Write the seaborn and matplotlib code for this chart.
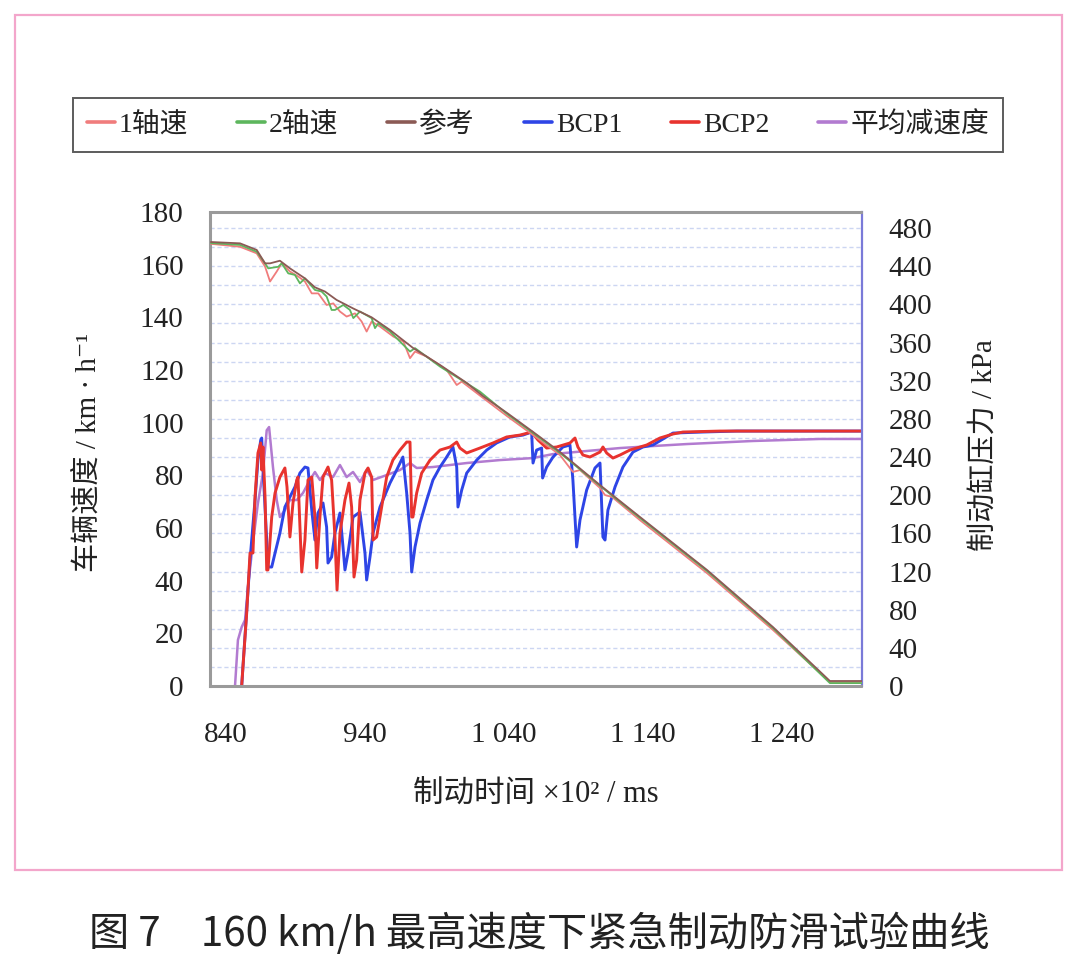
import matplotlib
matplotlib.use("Agg")
import matplotlib.pyplot as plt
import seaborn as sns
import pandas as pd
from matplotlib.ticker import MultipleLocator, FuncFormatter
from matplotlib.patches import Rectangle

# ---------------- data ----------------
# reference vehicle speed (km/h)
REF_T = [829.2, 850.1, 862.1, 868.1, 871.7, 878.8, 886.0, 896.8, 904.0, 911.2, 919.6, 931.4, 944.8,
         958.0, 974.5, 994.0, 1013.2, 1024.9, 1042.2, 1060.9, 1080.3, 1109.1, 1137.8, 1186.0,
         1233.5, 1274.5, 1297.6]
REF_V = [168.6, 168.1, 165.6, 160.5, 160.5, 161.5, 158.6, 154.8, 151.4, 149.8, 146.6, 143.4, 140.0,
         135.2, 128.4, 121.9, 115.1, 110.1, 103.7, 96.5, 88.9, 76.3, 64.2, 44.1,
         22.4, 1.9, 1.9]
# axle 1 speed
AX1_T = [829.2, 850.1, 862.1, 868.1, 871.7, 876.5, 880.1, 886.0, 892.0, 896.8, 901.7, 906.4, 912.4,
         917.2, 922.0, 926.8, 932.8, 937.6, 941.2, 944.8, 950.8, 960.4, 967.6, 972.4, 976.0, 984.4,
         998.8, 1006.0, 1009.6, 1022.7, 1042.2, 1060.9, 1080.3, 1089.6, 1094.7, 1109.1, 1112.7,
         1117.7, 1137.8, 1186.0, 1233.5, 1274.5, 1297.6]
AX1_V = [167.9, 166.8, 164.3, 159.3, 153.6, 157.4, 160.5, 157.4, 155.5, 153.6, 149.1, 149.1, 144.7,
         145.3, 142.2, 140.3, 141.5, 138.4, 134.6, 138.4, 136.5, 132.7, 130.8, 124.5, 127.0, 125.1,
         120.0, 114.3, 115.6, 110.3, 102.5, 95.3, 87.7, 81.3, 82.0, 75.2, 72.5,
         71.8, 63.0, 42.9, 21.3, 1.5, 1.5]
# axle 2 speed
AX2_T = [829.2, 850.1, 862.1, 868.1, 870.4, 877.6, 880.1, 884.8, 889.6, 893.2, 896.8, 904.0, 908.8,
         912.4, 916.0, 918.4, 924.4, 929.2, 931.6, 936.4, 944.8, 947.2, 949.6, 958.0, 972.4, 976.0,
         994.0, 1022.7, 1042.2, 1060.9, 1080.3, 1109.1, 1137.8, 1186.0, 1233.5, 1274.5, 1297.6]
AX2_V = [168.2, 167.5, 164.9, 160.5, 158.6, 159.2, 160.5, 156.7, 156.1, 152.9, 154.8, 150.4, 149.8,
         147.9, 142.8, 142.8, 144.7, 142.8, 139.7, 142.2, 139.7, 135.9, 137.7, 134.6, 127.0, 128.3,
         121.3, 111.8, 103.3, 96.1, 88.5, 76.0, 63.8, 43.7, 22.0, 1.1, 1.1]
# brake cylinder pressure 1 (kPa)
BCP1_T = [851.3, 857.3, 860.9, 863.0, 865.0, 865.7, 866.6, 869.3, 870.2, 872.9,
          875.3, 878.8, 882.4, 886.0, 889.6, 893.2, 896.8, 899.0, 901.7, 904.0,
          906.2, 909.8, 912.4, 913.4, 916.0, 918.4, 922.0, 924.2, 925.6, 927.8,
          931.4, 936.4, 940.0, 941.2, 943.6, 945.8, 950.8, 958.0, 962.8, 967.3,
          970.0, 972.4, 973.6, 976.0, 979.6, 984.4, 988.9, 994.0, 998.8, 1003.3,
          1006.0, 1006.9, 1009.6, 1013.2, 1020.4, 1027.6, 1034.7, 1044.3, 1053.7, 1059.9,
          1060.9, 1063.5, 1067.1, 1067.8, 1070.7, 1075.3, 1082.4, 1087.5, 1089.6, 1092.3,
          1094.7, 1099.5, 1105.5, 1109.1, 1111.2, 1112.7, 1114.8, 1119.9, 1125.6, 1132.8,
          1140.0, 1147.2, 1161.6, 1183.2, 1207.6, 1298.3]
BCP1_P = [0, 132.0, 194.9, 236.8, 257.8, 259.9, 229.5, 153.0, 124.7, 124.7,
          139.4, 160.3, 187.6, 198.1, 208.6, 223.2, 229.5, 228.5, 184.4, 153.0,
          181.3, 191.8, 166.6, 128.9, 135.2, 160.3, 181.3, 145.7, 121.6, 139.4,
          177.1, 182.4, 139.4, 111.1, 135.2, 160.3, 187.6, 212.7, 226.4, 240.0,
          202.3, 160.3, 119.5, 145.7, 170.8, 194.9, 215.9, 229.5, 240.0, 250.5,
          229.5, 187.6, 205.4, 223.2, 236.8, 247.3, 254.7, 261.0, 263.0, 266.2,
          233.7, 247.3, 249.4, 218.0, 229.5, 240.0, 250.5, 252.6, 215.9, 145.7,
          174.0, 205.4, 228.5, 233.7, 156.2, 153.0, 184.4, 208.6, 229.5, 245.2,
          250.5, 252.6, 265.1, 266.2, 267.2, 267.2]
# brake cylinder pressure 2 (kPa)
BCP2_T = [851.3, 852.2, 854.9, 857.3, 859.4, 860.9, 863.0, 865.0, 865.7, 866.6,
          868.1, 869.3, 870.2, 872.9, 875.3, 878.8, 882.4, 883.9, 886.0, 888.2,
          890.9, 891.8, 894.5, 896.8, 899.0, 901.7, 904.0, 905.3, 907.6, 909.8,
          913.4, 916.0, 918.4, 919.9, 922.0, 925.6, 928.5, 930.4, 932.1, 934.0,
          936.4, 940.0, 942.2, 944.8, 945.8, 948.4, 950.8, 955.6, 960.1, 965.2,
          970.0, 972.4, 973.6, 974.5, 977.2, 980.8, 986.8, 994.0, 1001.2, 1006.0,
          1008.3, 1013.2, 1022.7, 1032.1, 1041.9, 1051.5, 1059.9, 1064.5, 1070.7, 1077.9,
          1087.5, 1091.1, 1093.2, 1096.8, 1101.9, 1109.1, 1111.2, 1113.9, 1118.4, 1123.5,
          1130.6, 1142.7, 1152.2, 1161.6, 1168.8, 1195.4, 1243.6, 1298.3]
BCP2_P = [0, 19.9, 76.5, 139.4, 139.4, 198.1, 244.2, 254.7, 226.4, 250.5,
          198.1, 121.6, 121.6, 177.1, 202.3, 219.0, 228.5, 208.6, 156.2, 191.8,
          215.9, 219.0, 119.5, 153.0, 215.9, 219.0, 177.1, 123.7, 177.1, 219.0,
          229.5, 215.9, 156.2, 100.6, 160.3, 194.9, 212.7, 187.6, 114.2, 132.0,
          194.9, 223.2, 228.5, 219.0, 153.0, 156.2, 177.1, 219.0, 236.8, 247.3,
          255.7, 255.7, 177.1, 177.1, 202.3, 223.2, 236.8, 247.3, 250.5, 255.7,
          249.4, 244.2, 249.4, 254.7, 261.0, 263.0, 266.2, 257.8, 249.4, 250.5,
          254.7, 259.9, 250.5, 242.1, 240.0, 245.2, 250.5, 244.2, 238.9, 242.1,
          247.3, 252.6, 259.9, 264.1, 266.2, 267.2, 267.2, 267.2]
# average deceleration (drawn on right-axis scale)
PAVG_T = [846.5, 848.6, 851.3, 853.7, 855.8, 859.4, 863.0, 866.6, 869.3, 871.0,
          873.8, 876.5, 878.8, 882.4, 886.0, 890.9, 895.4, 900.4, 904.0, 907.6,
          911.2, 917.0, 922.0, 926.8, 931.4, 936.4, 941.2, 945.8, 955.6, 965.2,
          972.4, 977.2, 988.9, 1013.2, 1037.1, 1060.9, 1075.3, 1099.5, 1123.5, 1147.2,
          1171.7, 1219.1, 1267.3, 1298.3]
PAVG_P = [0, 48.2, 61.8, 69.2, 103.8, 149.9, 191.8, 223.2, 268.0, 271.4,
          229.5, 194.9, 177.1, 184.4, 194.9, 194.9, 202.3, 215.9, 224.3, 215.9,
          223.2, 219.0, 231.6, 219.0, 224.3, 213.8, 226.4, 215.9, 221.1, 226.4,
          233.7, 228.5, 229.5, 233.7, 236.8, 238.9, 243.1, 246.3, 249.4, 251.5,
          253.6, 256.8, 258.9, 258.9]

LABELS = ["1轴速", "2轴速", "参考", "BCP1", "BCP2", "平均减速度"]
X_TICKS = [840, 940, 1040, 1140, 1240]

# ---------------- style ----------------
sns.set_theme(style="white")
SERIF = ['Liberation Serif', 'Noto Sans CJK SC', 'DejaVu Sans']
plt.rcParams['font.family'] = SERIF
plt.rcParams['axes.unicode_minus'] = False

C_AX1 = '#F07C7C'
C_AX2 = '#5DB65D'
C_REF = '#8B5A55'
C_BCP1 = '#2E45E6'
C_BCP2 = '#E8332E'
C_AVG = '#B27BD0'

fig = plt.figure(figsize=(10.8, 9.69), dpi=100)
ax = fig.add_axes([210 / 1080, 1 - 686 / 969, 652 / 1080, 474 / 969])
ax2 = ax.twinx()
ax.set_zorder(ax2.get_zorder() + 1)
ax.patch.set_visible(False)

# pressure side
sns.lineplot(data=pd.DataFrame({'t': PAVG_T, 'p': PAVG_P}), x='t', y='p', ax=ax2,
             color=C_AVG, lw=1.8, label=LABELS[5], estimator=None, sort=False)
sns.lineplot(data=pd.DataFrame({'t': BCP1_T, 'p': BCP1_P}), x='t', y='p', ax=ax2,
             color=C_BCP1, lw=2.1, label=LABELS[3], estimator=None, sort=False)
sns.lineplot(data=pd.DataFrame({'t': BCP2_T, 'p': BCP2_P}), x='t', y='p', ax=ax2,
             color=C_BCP2, lw=2.1, label=LABELS[4], estimator=None, sort=False)

# speed side
sns.lineplot(data=pd.DataFrame({'t': AX1_T, 'v': AX1_V}), x='t', y='v', ax=ax,
             color=C_AX1, lw=1.3, label=LABELS[0], estimator=None, sort=False)
sns.lineplot(data=pd.DataFrame({'t': AX2_T, 'v': AX2_V}), x='t', y='v', ax=ax,
             color=C_AX2, lw=1.3, label=LABELS[1], estimator=None, sort=False)
sns.lineplot(data=pd.DataFrame({'t': REF_T, 'v': REF_V}), x='t', y='v', ax=ax,
             color=C_REF, lw=1.3, label=LABELS[2], estimator=None, sort=False)

# limits / ticks
ax.set_xlim(828.5, 1297.6)
ax.set_ylim(0, 180)
ax2.set_ylim(0, 496.8)
ax.set_xticks(X_TICKS)
ax.xaxis.set_minor_locator(MultipleLocator(20))
ax.xaxis.set_major_formatter(FuncFormatter(lambda v, p: f"{int(round(v)):,}".replace(",", " ")))
ax.yaxis.set_major_locator(MultipleLocator(20))
ax2.yaxis.set_minor_locator(MultipleLocator(20))
ax2.set_yticks(list(range(0, 481, 40)))

ax.set_xlabel("")
ax.set_ylabel("")
ax2.set_xlabel("")
ax2.set_ylabel("")

ax.tick_params(axis='y', which='both', length=0, pad=19, labelsize=21, labelcolor='#222222')
ax.tick_params(axis='x', which='both', length=0, pad=26, labelsize=21, labelcolor='#222222')
ax2.tick_params(axis='y', which='both', length=0, pad=19, labelsize=21, labelcolor='#222222')

# grids
ax2.grid(False)
ax.grid(False)
ax2.yaxis.grid(True, which='both', color='#ccd6f2', ls=(0, (3, 2)), lw=1.0)
ax2.xaxis.grid(True, which='both', color='#cccccc', ls=(0, (1, 2)), lw=1.2)

for sp in ax.spines.values():
    sp.set_visible(False)
for name in ['left', 'top', 'bottom']:
    ax2.spines[name].set_visible(True)
    ax2.spines[name].set_color('#9a9a9a')
    ax2.spines[name].set_linewidth(2.2)
    ax2.spines[name].set_linestyle((0, (1, 1)))
ax2.spines['right'].set_visible(True)
ax2.spines['right'].set_color('#7a7ad8')
ax2.spines['right'].set_linewidth(1.6)

# legend
h1, l1 = ax.get_legend_handles_labels()
h2, l2 = ax2.get_legend_handles_labels()
for a in (ax, ax2):
    if a.get_legend() is not None:
        a.get_legend().remove()
hmap = dict(zip(l1 + l2, h1 + h2))
handles = [hmap[l] for l in LABELS]
leg = fig.legend(handles, LABELS, loc='lower left',
                 bbox_to_anchor=(73 / 1080, 1 - 152 / 969, 930 / 1080, 64 / 969),
                 mode='expand', ncol=6, frameon=True, fancybox=False,
                 edgecolor='#333333', fontsize=20, handlelength=1.0,
                 handletextpad=0.15, borderpad=0.5, borderaxespad=0)
leg.get_frame().set_linewidth(1.4)
for t in leg.get_texts():
    t.set_color('#222222')
for ln in leg.get_lines():
    ln.set_linewidth(2.6)

# axis titles
fig.text(88 / 1080, 1 - 452 / 969, "车辆速度 / km · h⁻¹", rotation=90,
         ha='center', va='center', fontsize=21, color='#222222')
fig.text(985 / 1080, 1 - 445 / 969, "制动缸压力 / kPa", rotation=90,
         ha='center', va='center', fontsize=21, color='#222222')
fig.text(536 / 1080, 1 - 795 / 969, "制动时间 ×10² / ms",
         ha='center', va='center', fontsize=22, color='#222222')

# caption
fig.text(539 / 1080, 1 - 934 / 969, "图 7\u3000160 km/h 最高速度下紧急制动防滑试验曲线",
         ha='center', va='center', fontsize=29, color='#222222', weight='medium',
         family=['Noto Sans CJK SC', 'DejaVu Sans'])

# pink frame
fig.add_artist(Rectangle((15 / 1080, 1 - 870 / 969), 1047 / 1080, 855 / 969,
                         transform=fig.transFigure, fill=False,
                         edgecolor='#F3A6CB', lw=1.6))

fig.savefig("out.png", dpi=100)
